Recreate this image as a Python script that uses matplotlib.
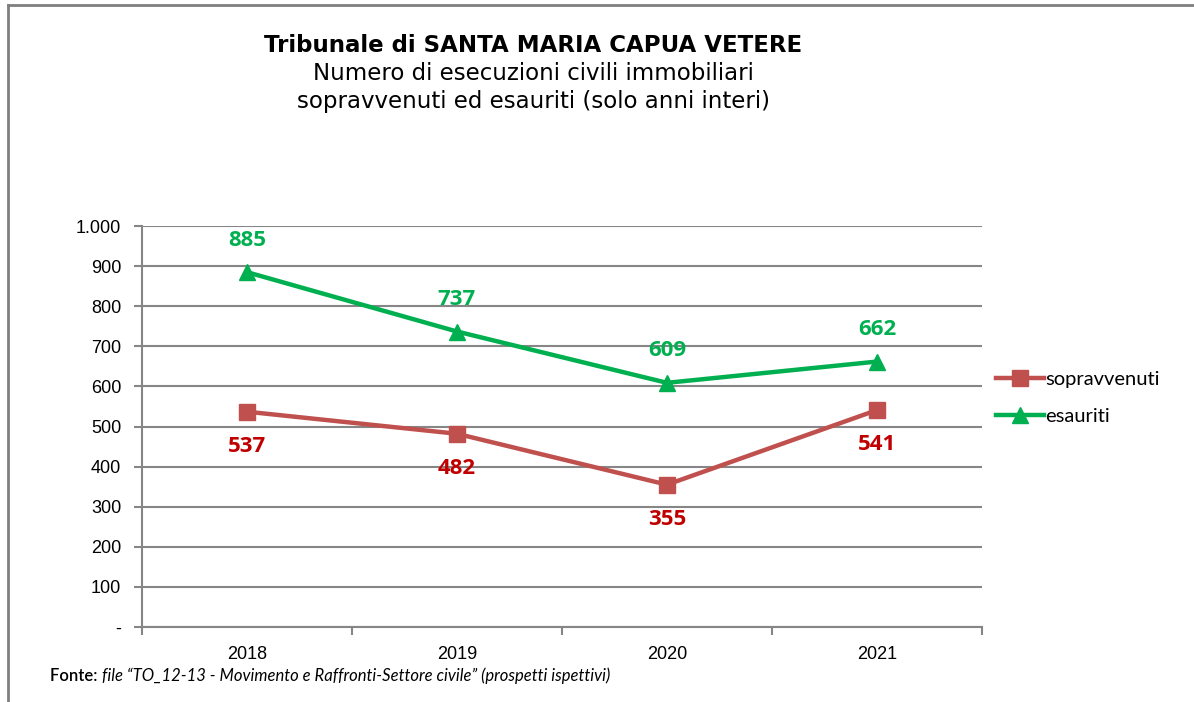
import matplotlib.pyplot as plt
from matplotlib.lines import Line2D

# dati
anni = ["2018", "2019", "2020", "2021"]
sopravvenuti = [537, 482, 355, 541]
esauriti = [885, 737, 609, 662]
yticks = [0, 100, 200, 300, 400, 500, 600, 700, 800, 900, 1000]
ylabels = ["-", "100", "200", "300", "400", "500", "600", "700", "800", "900", "1.000"]

rosso = "#C0504D"
verde = "#00B050"
grigio = "#868686"

fig = plt.figure(figsize=(11.94, 7.02), dpi=100)
ax = fig.add_axes([0.1189, 0.1068, 0.7035, 0.5712])

x = list(range(len(anni)))
ax.plot(x, sopravvenuti, color=rosso, lw=3.2, marker="s", ms=12, label="sopravvenuti")
ax.plot(x, esauriti, color=verde, lw=3.2, marker="^", ms=12, label="esauriti")

# etichette dei valori
for i, v in enumerate(sopravvenuti):
    ax.annotate(str(v), (i, v), xytext=(0, -25), textcoords="offset points",
                ha="center", va="center", color="#C00000", fontsize=16,
                fontweight="bold", family="Open Sans")
for i, v in enumerate(esauriti):
    ax.annotate(str(v), (i, v), xytext=(0, 23), textcoords="offset points",
                ha="center", va="center", color=verde, fontsize=16,
                fontweight="bold", family="Open Sans")

ax.set_xlim(-0.5, len(anni) - 0.5)
ax.set_ylim(0, 1000)
ax.set_yticks(yticks)
ax.set_yticklabels(ylabels, family="Liberation Sans", fontsize=13)
ax.set_xticks(x)
ax.set_xticklabels(anni, family="Liberation Sans", fontsize=13)
ax.set_xticks([i - 0.5 for i in range(len(anni) + 1)], minor=True)
ax.tick_params(axis="x", which="major", length=0, pad=14)
ax.tick_params(axis="x", which="minor", length=6, width=1.5, color=grigio, direction="out")
ax.tick_params(axis="y", length=6, width=1.5, color=grigio, pad=9)
ax.grid(axis="y", color=grigio, lw=1.5)
ax.set_axisbelow(True)
for s in ["top", "right"]:
    ax.spines[s].set_visible(False)
for s in ["left", "bottom"]:
    ax.spines[s].set_color(grigio)
    ax.spines[s].set_linewidth(1.5)

ax.legend(loc="center left", bbox_to_anchor=(0.995, 0.572), frameon=False,
          prop={"family": "Lato", "size": 14.5}, handlelength=2.4,
          handletextpad=0.05, labelspacing=1.0)

# titolo
fig.text(0.4464, 0.935, "Tribunale di SANTA MARIA CAPUA VETERE", ha="center", va="center",
         fontsize=16.5, fontweight="bold", family="DejaVu Sans")
fig.text(0.4464, 0.895, "Numero di esecuzioni civili immobiliari", ha="center", va="center",
         fontsize=16.5, family="DejaVu Sans")
fig.text(0.4464, 0.855, "sopravvenuti ed esauriti (solo anni interi)", ha="center", va="center",
         fontsize=16.5, family="DejaVu Sans")

# fonte
t = fig.text(0.042, 0.037, "Fonte: ", ha="left", va="center", fontsize=12, family="Lato",
             fontweight="semibold")
fig.canvas.draw()
bb = t.get_window_extent()
fig.text(bb.x1 / fig.bbox.width, 0.037,
         "file \u201cTO_12-13 - Movimento e Raffronti-Settore civile\u201d (prospetti ispettivi)",
         ha="left", va="center", fontsize=12, family="Lato", style="italic")

# bordo
fig.add_artist(Line2D([0.007, 1.0], [0.993, 0.993], color="#7F7F7F", lw=2))
fig.add_artist(Line2D([0.007, 0.007], [0.0, 0.993], color="#7F7F7F", lw=2))

fig.savefig("out.png", dpi=100)
